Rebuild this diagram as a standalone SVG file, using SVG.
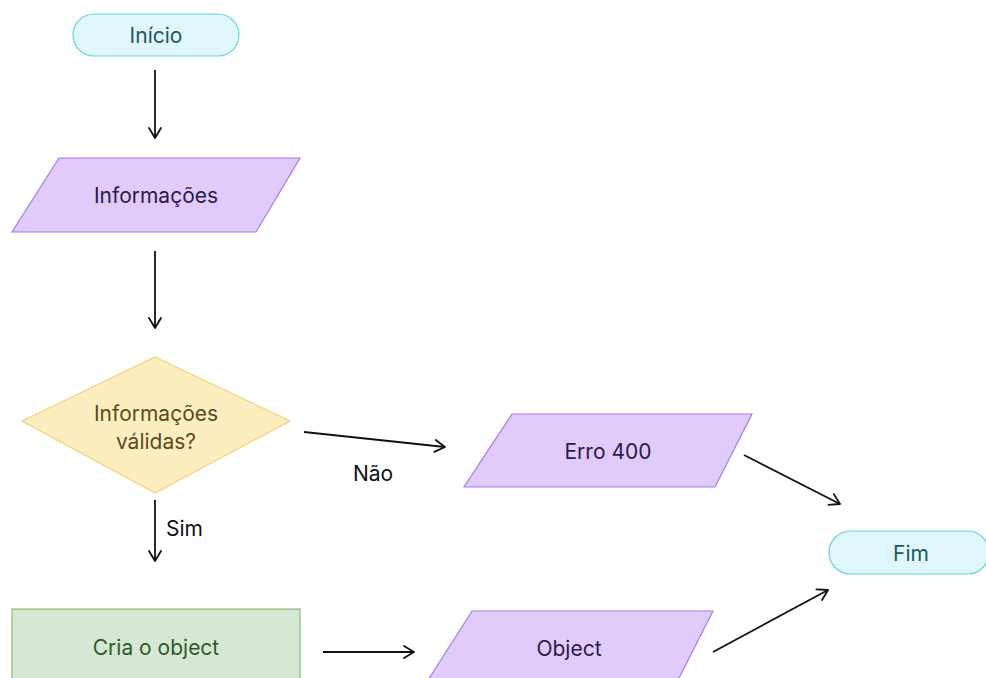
<svg xmlns="http://www.w3.org/2000/svg" width="986" height="678" viewBox="0 0 986 678">
  <defs>
    <marker id="arrow" viewBox="0 0 12 14" refX="11" refY="7" markerWidth="12" markerHeight="14" markerUnits="userSpaceOnUse" orient="auto">
      <path d="M1,1 L11,7 L1,13" fill="none" stroke="#111" stroke-width="1.8" stroke-linecap="round" stroke-linejoin="round"/>
    </marker>
  </defs>
  <style>
    text { font-family: Inter, "Noto Sans", "Liberation Sans", sans-serif; font-size: 21px; text-anchor: middle; dominant-baseline: central; }
    .term { fill: #dff6fb; stroke: #67d2df; stroke-width: 1.2; }
    .term-t { fill: #1d5860; }
    .io { fill: #e0cbfb; stroke: #a87be6; stroke-width: 1.2; }
    .io-t { fill: #2c1a4a; }
    .dec { fill: #fdeec0; stroke: #f1d27a; stroke-width: 1.2; }
    .dec-t { fill: #5b4a1c; }
    .proc { fill: #d6e8d4; stroke: #8dbb78; stroke-width: 1.2; }
    .proc-t { fill: #2e5a27; }
    .edge { fill: none; stroke: #111; stroke-width: 1.8; marker-end: url(#arrow); }
    .lbl { fill: #111; text-anchor: start; }
  </style>

  <g id="connectors">
    <line class="edge" x1="155" y1="70" x2="155" y2="138"/>
    <line class="edge" x1="155" y1="251" x2="155" y2="328"/>
    <line class="edge" x1="304" y1="432" x2="445" y2="447"/>
    <text class="lbl" x="353" y="473">Não</text>
    <line class="edge" x1="155" y1="500" x2="155" y2="561"/>
    <text class="lbl" x="166" y="528">Sim</text>
    <line class="edge" x1="323" y1="652" x2="414" y2="652"/>
    <line class="edge" x1="744" y1="455" x2="840" y2="504"/>
    <line class="edge" x1="713" y1="652" x2="828" y2="590"/>
  </g>

  <g id="inicio">
    <rect class="term" x="73" y="14" width="166" height="42" rx="21"/>
    <text class="term-t" x="156" y="35">Início</text>
  </g>

  <g id="informacoes">
    <polygon class="io" points="59,158 300,158 256,232 12,232"/>
    <text class="io-t" x="156" y="195">Informações</text>
  </g>

  <g id="validas">
    <polygon class="dec" points="155,357 290,421 155,493 22,421"/>
    <text class="dec-t" x="156" y="413">Informações</text>
    <text class="dec-t" x="156" y="441">válidas?</text>
  </g>

  <g id="erro400">
    <polygon class="io" points="512,414 752,414 715,487 464,487"/>
    <text class="io-t" x="608" y="451">Erro 400</text>
  </g>

  <g id="fim">
    <rect class="term" x="829" y="531" width="160" height="43" rx="21.5"/>
    <text class="term-t" x="911" y="553">Fim</text>
  </g>

  <g id="cria">
    <rect class="proc" x="12" y="609" width="288" height="80"/>
    <text class="proc-t" x="156" y="647">Cria o object</text>
  </g>

  <g id="object">
    <polygon class="io" points="472,611 713,611 674,688 423,688"/>
    <text class="io-t" x="569" y="648">Object</text>
  </g>
</svg>
